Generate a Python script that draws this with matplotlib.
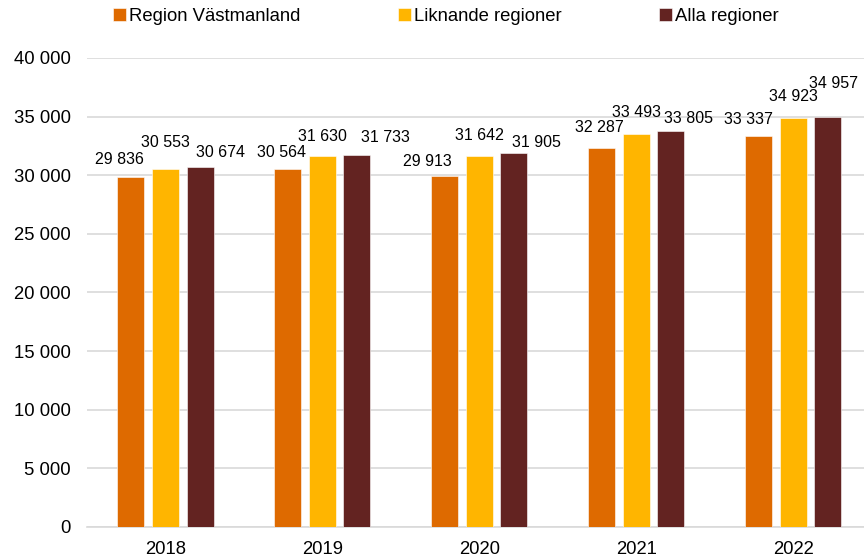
import matplotlib
matplotlib.use("Agg")
import matplotlib.pyplot as plt
import numpy as np

plt.rcParams['font.family'] = ['Liberation Sans', 'DejaVu Sans']

years = ["2018", "2019", "2020", "2021", "2022"]
series_names = ["Region Västmanland", "Liknande regioner", "Alla regioner"]
vastmanland = [29836, 30564, 29913, 32287, 33337]
liknande = [30553, 31630, 31642, 33493, 34923]
alla = [30674, 31733, 31905, 33805, 34957]

colors = ["#DE6A00", "#FFB500", "#632321"]

# label offsets in pixels (dx, dy) from the top centre of each bar, Excel-style placement
label_offsets = [
    [(-12, 18), (-6, 16), (-18, 15), (-2, 21), (-10, 17)],
    [(0, 26), (0, 20), (0, 20), (0, 22), (0, 21)],
    [(20, 15), (28, 17), (22, 10), (18, 12), (6, 34)],
]

fig = plt.figure(figsize=(8.64, 5.57), dpi=100)
ax = fig.add_axes([0.1007, 0.0539, 0.8993, 0.842])

x = np.arange(len(years))
width = 0.172
step = 0.22

for i, (vals, name) in enumerate(zip([vastmanland, liknande, alla], series_names)):
    pos = x + (i - 1) * step
    bars = ax.bar(pos, vals, width, color=colors[i], label=name,
                  edgecolor="white", linewidth=0.4, zorder=3)
    for j, b in enumerate(bars):
        dx, dy = label_offsets[i][j]
        ax.annotate(f"{vals[j]:,}".replace(",", " "),
                    (b.get_x() + b.get_width() / 2, b.get_height()),
                    xytext=(dx, dy), textcoords="offset pixels",
                    ha="center", va="center", fontsize=11.5, color="#000000")

ax.set_xlim(-0.5, 4.45)
ax.set_ylim(0, 40000)
ax.set_yticks(np.arange(0, 40001, 5000))
ax.set_yticklabels([f"{int(v):,}".replace(",", " ") for v in np.arange(0, 40001, 5000)])
ax.set_xticks(x)
ax.set_xticklabels(years)
ax.tick_params(axis="y", length=0, pad=11.5, labelsize=13.3)
ax.tick_params(axis="x", length=0, pad=10, labelsize=13.3)

ax.grid(axis="y", color="#d9d9d9", linewidth=1.2, zorder=0)
for s in ["top", "right", "left"]:
    ax.spines[s].set_visible(False)
ax.spines["bottom"].set_color("#d9d9d9")
ax.spines["bottom"].set_linewidth(1.2)

fig.legend(loc="center", bbox_to_anchor=(0.516, 0.971), ncol=3, frameon=False,
           fontsize=13.3, handlelength=0.7, handleheight=0.7, handletextpad=0.15,
           columnspacing=5.3)

fig.savefig("out.png", dpi=100)
